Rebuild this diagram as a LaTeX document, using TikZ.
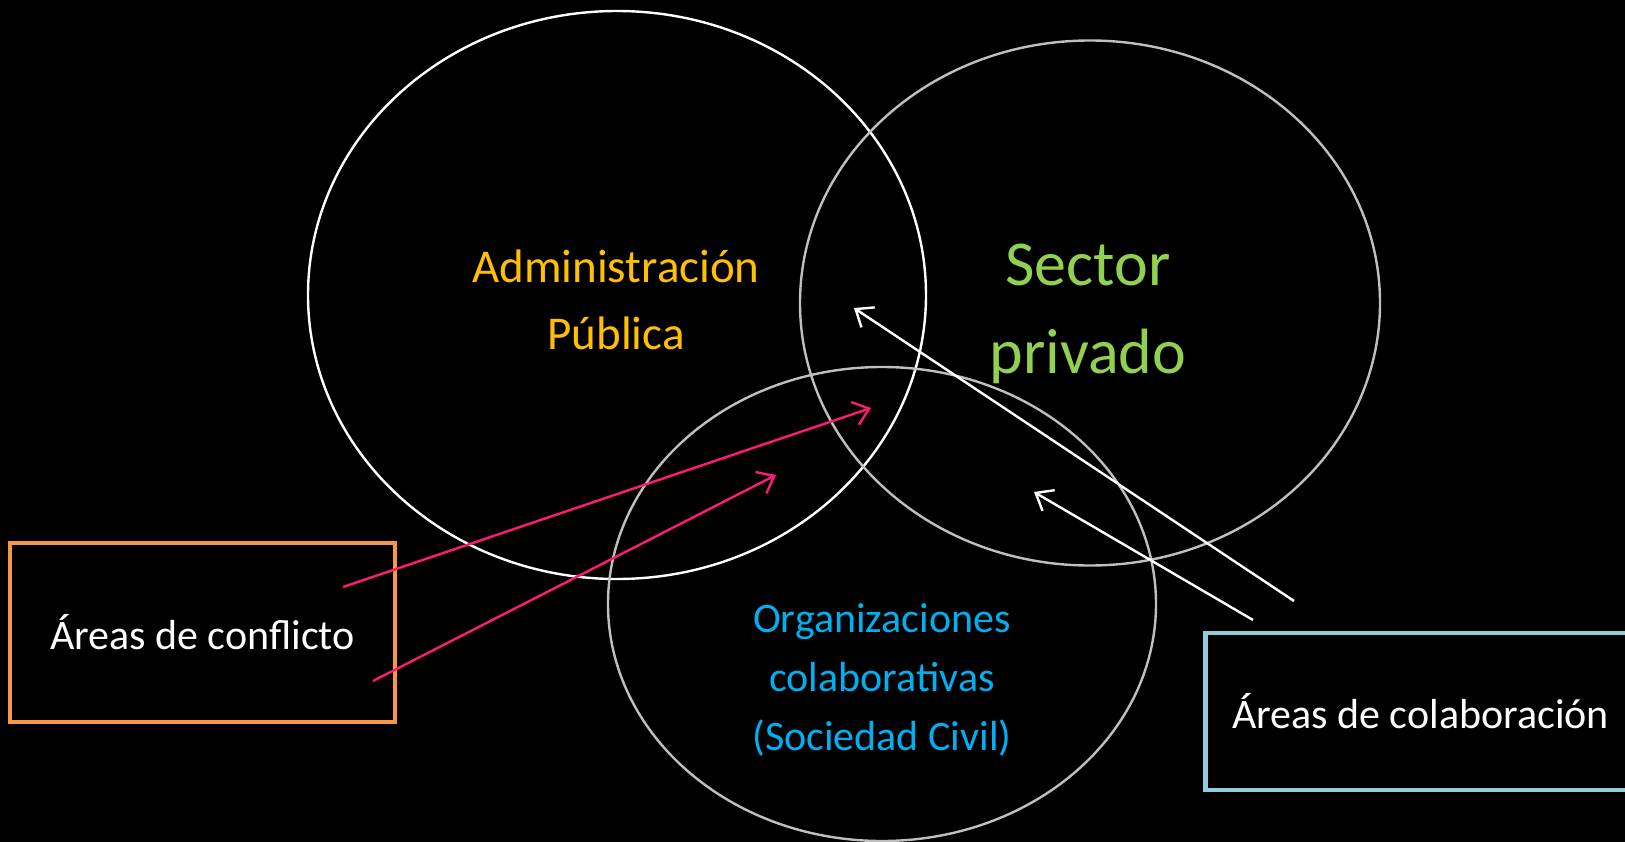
\documentclass[tikz,border=0pt]{standalone}
\usepackage{fontspec}
\setmainfont{Carlito}
\usetikzlibrary{shapes.geometric,arrows.meta}
\definecolor{adminGold}{RGB}{255,192,0}
\definecolor{sectorGreen}{RGB}{146,208,80}
\definecolor{orgBlue}{RGB}{0,176,240}
\definecolor{ringGray}{RGB}{191,191,191}
\definecolor{conflictPink}{RGB}{255,26,117}
\definecolor{conflictOrange}{RGB}{247,150,70}
\definecolor{collabBlue}{RGB}{146,205,220}
\begin{document}
\begin{tikzpicture}[x=1pt,y=-1pt,
    ring/.style={ellipse, draw, line width=2.4pt, inner sep=0pt},
    areabox/.style={line width=4.5pt, text=white, inner sep=0pt, font=\fontsize{42}{50}\selectfont},
    pointer/.style={line width=2.4pt, -{Straight Barb[length=15pt,width=24pt]}}]
    \useasboundingbox (0,0) rectangle (1625,842);
    \fill[black] (0,0) rectangle (1625,842);
    % the three sectors
    \node[ring, white, minimum width=618pt, minimum height=568pt] (admin) at (617,295) {};
    \node[ring, ringGray, minimum width=580pt, minimum height=525pt] (sector) at (1090,303) {};
    \node[ring, ringGray, minimum width=548pt, minimum height=474pt] (orgs) at (882,604) {};
    \node[align=center, text=adminGold, font=\fontsize{47}{67}\selectfont] (adminlbl) at (616,300) {Administración\\Pública};
    \node[align=center, text=sectorGreen, font=\fontsize{64}{88}\selectfont] (sectorlbl) at (1088,314) {Sector\\privado};
    \node[align=center, text=orgBlue, font=\fontsize{42}{59}\selectfont] (orgslbl) at (882,680) {Organizaciones\\colaborativas\\(Sociedad Civil)};
    % the two boxes
    \node[areabox, draw=conflictOrange, minimum width=385pt, minimum height=179pt] (conflict) at (202.5,632.5) {Áreas de conflicto};
    \node[areabox, draw=collabBlue, minimum width=430pt, minimum height=157pt] (collab) at (1420.5,711.5) {Áreas de colaboración};
    % arrows
    \coordinate (c1) at (343,587);
    \coordinate (c2) at (373,681);
    \coordinate (w1) at (1294,601);
    \coordinate (w2) at (1253,620);
    \coordinate (c1end) at (871,408);
    \coordinate (c2end) at (776,475);
    \coordinate (w1end) at (854,308);
    \coordinate (w2end) at (1034,492);
    \draw[pointer, conflictPink] (c1) -- (c1end);
    \draw[pointer, conflictPink] (c2) -- (c2end);
    \draw[pointer, white] (w1) -- (w1end);
    \draw[pointer, white] (w2) -- (w2end);
\end{tikzpicture}
\end{document}
